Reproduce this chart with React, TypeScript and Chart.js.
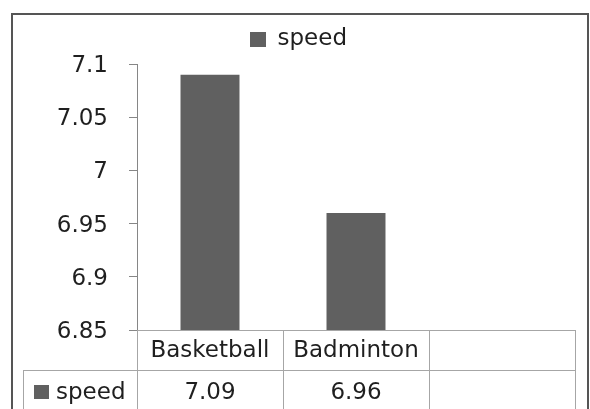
import React, { useEffect, useRef } from "react";
import { Chart, registerables } from "chart.js";

Chart.register(...registerables);

const categories: string[] = ["Basketball", "Badminton", ""];
const seriesName = "speed";
const speedValues: (number | null)[] = [7.09, 6.96, null];
const yMin = 6.85;
const yMax = 7.1;
const yStep = 0.05;

const FONT = "'DejaVu Sans', sans-serif";
const TEXT = "#1f1f1f";
const BAR = "#606060";
const AXIS = "#868686";
const GRID = "#a6a6a6";
const FRAME = "#555555";

const tablePlugin = {
  id: "dataTable",
  afterDraw(chart: any) {
    const { ctx, chartArea, scales } = chart;
    const x = scales.x;
    const n = categories.length;
    const colW = (chartArea.right - chartArea.left) / n;
    const top = Math.round(chartArea.bottom);
    const rowH = 40;
    const mid = top + rowH;
    const bottom = chart.height + 20;
    const headLeft = 23;
    ctx.save();
    ctx.strokeStyle = GRID;
    ctx.lineWidth = 1;
    const line = (x1: number, y1: number, x2: number, y2: number) => {
      ctx.beginPath();
      ctx.moveTo(x1, y1);
      ctx.lineTo(x2, y2);
      ctx.stroke();
    };
    line(chartArea.left, top + 0.5, chartArea.right, top + 0.5);
    line(headLeft, mid + 0.5, chartArea.right, mid + 0.5);
    for (let i = 0; i <= n; i++) {
      const edge = i < n ? x.getPixelForValue(i) - colW / 2 : x.getPixelForValue(n - 1) + colW / 2;
      const px = Math.round(edge) + 0.5;
      line(px, top, px, bottom);
    }
    line(headLeft + 0.5, mid, headLeft + 0.5, bottom);

    ctx.fillStyle = TEXT;
    ctx.textBaseline = "middle";
    ctx.textAlign = "center";
    ctx.font = `23px ${FONT}`;
    categories.forEach((c, i) => {
      ctx.fillText(c, x.getPixelForValue(i), top + rowH / 2 + 1);
    });
    speedValues.forEach((v, i) => {
      if (v == null) return;
      ctx.fillText(String(v), x.getPixelForValue(i), mid + 23);
    });
    // series key
    ctx.fillStyle = BAR;
    ctx.fillRect(34, mid + 15, 15, 14);
    ctx.fillStyle = TEXT;
    ctx.textAlign = "left";
    ctx.fillText(seriesName, 56, mid + 23);

    // outer frame
    ctx.strokeStyle = FRAME;
    ctx.lineWidth = 2;
    ctx.strokeRect(12, 14, 576, 420);
    ctx.restore();
  },
};

export default function App() {
  const ref = useRef<HTMLCanvasElement | null>(null);
  useEffect(() => {
    if (!ref.current) return;
    const chart = new Chart(ref.current, {
      type: "bar",
      data: {
        labels: categories,
        datasets: [
          {
            label: seriesName,
            data: speedValues,
            backgroundColor: BAR,
            borderWidth: 0,
            barPercentage: 0.404,
            categoryPercentage: 1,
          },
        ],
      },
      options: {
        animation: false,
        responsive: false,
        devicePixelRatio: 1,
        layout: { padding: { left: 22, right: 15, top: 18, bottom: 79 } },
        plugins: {
          legend: {
            position: "top",
            labels: {
              boxWidth: 16,
              boxHeight: 15,
              padding: 10,
              color: TEXT,
              font: { family: FONT, size: 23 },
            },
          },
          subtitle: {
            display: true,
            text: "",
            position: "top",
            weight: 500,
            padding: 0,
            font: { size: 3, lineHeight: 1 },
          },
          tooltip: { enabled: false },
        },
        scales: {
          x: {
            display: false,
          },
          y: {
            min: yMin,
            max: yMax,
            afterFit: (scale: any) => {
              scale.width = 115;
            },
            ticks: {
              stepSize: yStep,
              padding: 21,
              color: TEXT,
              font: { family: FONT, size: 23 },
              labelOffset: 2,
              callback: (v: any) => String(Number(Number(v).toFixed(2))),
            },
            grid: {
              drawOnChartArea: false,
              drawTicks: true,
              tickLength: 8,
              color: AXIS,
            },
            border: { display: true, color: AXIS, width: 1 },
          },
        },
      },
      plugins: [tablePlugin],
    } as any);
    return () => chart.destroy();
  }, []);
  return (
    <div style={{ position: "fixed", left: 0, top: 0, width: 590, height: 409, background: "#fff" }}>
      <canvas ref={ref} width={590} height={409} style={{ display: "block" }} />
    </div>
  );
}
